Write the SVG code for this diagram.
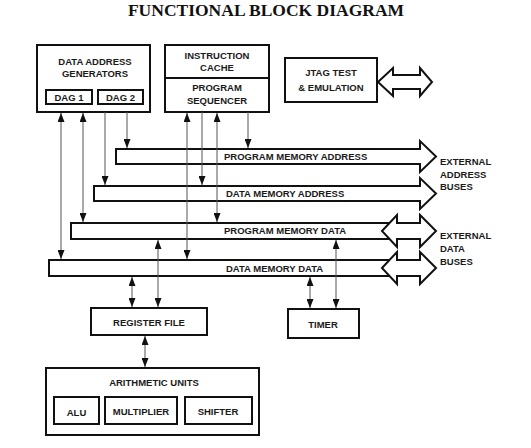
<svg xmlns="http://www.w3.org/2000/svg" width="531" height="448" viewBox="0 0 531 448">
<defs>
<style>
.box{fill:none;stroke:#111;stroke-width:2}
.bus{fill:none;stroke:#111;stroke-width:2;stroke-linejoin:miter}
.t{font-family:"Liberation Sans",Arial,sans-serif;font-weight:bold;font-size:9.5px;fill:#1a1a1a;text-anchor:middle}
.ts{font-family:"Liberation Sans",Arial,sans-serif;font-weight:bold;font-size:9.5px;fill:#1a1a1a}
.ln{fill:none;stroke:#555;stroke-width:1}
.title{font-family:"Liberation Serif","Times New Roman",serif;font-weight:bold;font-size:17.5px;fill:#111;text-anchor:middle}
</style>
<marker id="ah" viewBox="0 0 9 7" refX="9" refY="3.5" markerWidth="9" markerHeight="7" markerUnits="userSpaceOnUse" orient="auto-start-reverse">
<path d="M0,0 L9,3.5 L0,7 Z" fill="#111"/>
</marker>
</defs>
<rect width="531" height="448" fill="#fff"/>
<text class="title" x="266" y="16">FUNCTIONAL BLOCK DIAGRAM</text>

<g id="dag">
<rect class="box" x="37" y="45" width="113" height="67"/>
<text class="t" x="95" y="65.4">DATA ADDRESS</text>
<text class="t" x="95" y="77.4">GENERATORS</text>
<rect class="box" x="46" y="90" width="46" height="14"/>
<text class="t" x="69" y="100.6">DAG 1</text>
<rect class="box" x="98" y="90" width="45" height="14"/>
<text class="t" x="120.5" y="100.6">DAG 2</text>
</g>

<g id="sequencer">
<rect class="box" x="165" y="45" width="104" height="67"/>
<line x1="165" y1="78" x2="269" y2="78" stroke="#111" stroke-width="2"/>
<text class="t" x="217" y="59.4">INSTRUCTION</text>
<text class="t" x="217" y="71.4">CACHE</text>
<text class="t" x="217" y="91.4">PROGRAM</text>
<text class="t" x="217" y="104.4">SEQUENCER</text>
</g>

<g id="jtag">
<rect class="box" x="285" y="58" width="92" height="44"/>
<text class="t" x="331" y="76.4">JTAG TEST</text>
<text class="t" x="331" y="90.6">&amp; EMULATION</text>
<path class="bus" d="M378,82 L393,68 V75 H420 V68 L432,82 L420,96 V89 H393 V96 Z"/>
</g>

<g id="pma-bus">
<path class="bus" d="M116,149 H420 V141 L436,156.5 L420,172 V164 H116 Z"/>
<text class="ts" x="224" y="160.4">PROGRAM MEMORY ADDRESS</text>
</g>
<g id="dma-bus">
<path class="bus" d="M94,186 H420 V178 L436,193.5 L420,209 V201 H94 Z"/>
<text class="ts" x="226" y="197.4">DATA MEMORY ADDRESS</text>
</g>
<g id="pmd-bus">
<path class="bus" d="M389.5,223 H71 V239 H389.5"/>
<path class="bus" d="M382,231 L397,215 V223 H420 V215 L436,231 L420,247 V239 H397 V247 Z"/>
<text class="ts" x="224" y="234.4">PROGRAM MEMORY DATA</text>
</g>
<g id="dmd-bus">
<path class="bus" d="M389.5,260 H49 V276 H389.5"/>
<path class="bus" d="M382,268 L397,252 V260 H420 V252 L436,268 L420,284 V276 H397 V284 Z"/>
<text class="ts" x="226" y="272.4">DATA MEMORY DATA</text>
</g>

<g id="ext-address">
<text class="ts" x="440" y="165.4">EXTERNAL</text>
<text class="ts" x="440" y="177.9">ADDRESS</text>
<text class="ts" x="440" y="190.4">BUSES</text>
</g>
<g id="ext-data">
<text class="ts" x="440" y="239.4">EXTERNAL</text>
<text class="ts" x="440" y="252.4">DATA</text>
<text class="ts" x="440" y="265.4">BUSES</text>
</g>

<g id="register-file">
<rect class="box" x="91" y="308" width="116" height="27"/>
<text class="t" x="149" y="326.4">REGISTER FILE</text>
</g>

<g id="timer">
<rect class="box" x="288" y="309" width="71" height="29"/>
<text class="t" x="323" y="327.6">TIMER</text>
</g>

<g id="arithmetic">
<rect class="box" x="46" y="368" width="213" height="67"/>
<text class="t" x="154" y="386.4">ARITHMETIC UNITS</text>
<rect class="box" x="54" y="397" width="45" height="27"/>
<text class="t" x="76.5" y="415.6">ALU</text>
<rect class="box" x="105" y="397" width="72" height="27"/>
<text class="t" x="141" y="414.6">MULTIPLIER</text>
<rect class="box" x="185" y="397" width="67" height="27"/>
<text class="t" x="218" y="414.6">SHIFTER</text>
</g>

<g id="connectors">
<path class="ln" d="M61,113 V259" marker-start="url(#ah)" marker-end="url(#ah)"/>
<path class="ln" d="M83,113 V222" marker-start="url(#ah)" marker-end="url(#ah)"/>
<path class="ln" d="M105,112 V185" stroke="#222" marker-end="url(#ah)"/>
<path class="ln" d="M127,112 V148" marker-end="url(#ah)"/>
<path class="ln" d="M187,113 V259" stroke="#222" marker-start="url(#ah)" marker-end="url(#ah)"/>
<path class="ln" d="M202,112 V185" stroke="#777" marker-end="url(#ah)"/>
<path class="ln" d="M217,113 V222" marker-start="url(#ah)" marker-end="url(#ah)"/>
<path class="ln" d="M248,112 V148" marker-end="url(#ah)"/>
<path class="ln" d="M132,277 V307" marker-start="url(#ah)" marker-end="url(#ah)"/>
<path class="ln" d="M158,240 V307" stroke="#222" marker-start="url(#ah)" marker-end="url(#ah)"/>
<path class="ln" d="M310,277 V308" marker-start="url(#ah)" marker-end="url(#ah)"/>
<path class="ln" d="M336,240 V308" marker-start="url(#ah)" marker-end="url(#ah)"/>
<path class="ln" d="M145,336 V367" marker-start="url(#ah)" marker-end="url(#ah)"/>
</g>
</svg>
